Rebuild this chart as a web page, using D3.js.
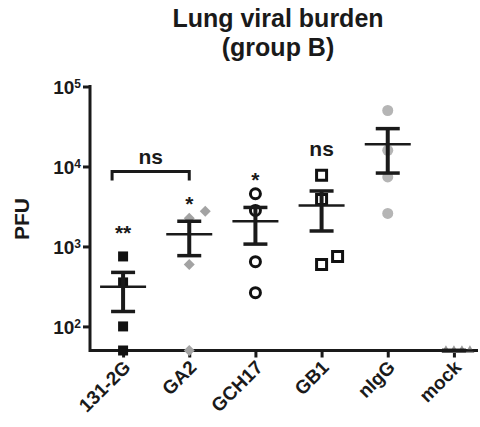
<!DOCTYPE html>
<html lang="en">
  <head>
    <meta charset="UTF-8" />
    <title>Lung viral burden</title>
    <script src="https://cdn.jsdelivr.net/npm/d3@7"></script>
    <style>
      body { margin: 0; background: #fff; }
      text { font-family: Arial, "Liberation Sans", sans-serif; fill: #1a1a1a; }
    </style>
  </head>
  <body>
    <svg width="480" height="427"></svg>
  </body>

  <script>
    // data (PFU per animal)
    var categories = ['131-2G', 'GA2', 'GCH17', 'GB1', 'nIgG', 'mock'];
    var pfu131 = [750, 355, 100, 50];
    var pfuGA2 = [2260, 2760, 596, 50];
    var pfuGCH17 = [4560, 2820, 645, 264];
    var pfuGB1 = [7780, 3870, 596, 750];
    var pfuNIgG = [50100, 15900, 7400, 2590];
    var pfuMock = [50, 50, 50, 50];
    var yTicks = [1e2, 1e3, 1e4, 1e5];
    var sigLabels = ['**', '*', '*', 'ns', '', ''];
    var sigHeights = [1220, 2750, 5480, 13700, null, null]; // where the stars sit, PFU
    var bracketPair = ['131-2G', 'GA2'];
    var bracketLabel = 'ns';
    var bracketTop = 8680, bracketFoot = 6680;

    var series = [pfu131, pfuGA2, pfuGCH17, pfuGB1, pfuNIgG, pfuMock];

    // marker styles per group (size = width in px)
    var marks = [
      { shape: 'square', fill: '#111', stroke: 'none', size: 10, step: 16 },
      { shape: 'diamond', fill: '#a3a3a3', stroke: 'none', size: 11, step: 16 },
      { shape: 'circle', fill: 'none', stroke: '#111', size: 10, step: 16 },
      { shape: 'square', fill: 'none', stroke: '#111', size: 10, step: 16 },
      { shape: 'circle', fill: '#b5b5b5', stroke: 'none', size: 11, step: 16 },
      { shape: 'triangle', fill: '#9a9a9a', stroke: 'none', size: 9, step: 8 }
    ];

    var svg = d3.select('svg');
    var plotL = 90, plotR = 478, plotT = 86.5, plotB = 350.5;

    var x = d3.scalePoint().domain(categories).range([plotL, 487]).padding(0.5);
    var y = d3.scaleLog().domain([50, 1e5]).range([plotB, plotT]);

    // title
    var title = svg.append('text').attr('text-anchor', 'middle')
      .style('font-size', '25px').style('font-weight', 'bold');
    title.append('tspan').attr('x', 278).attr('y', 27).text('Lung viral burden');
    title.append('tspan').attr('x', 278).attr('y', 56).text('(group B)');

    // y axis
    var gy = svg.append('g').attr('transform', 'translate(' + plotL + ',0)')
      .call(d3.axisLeft(y).tickValues(yTicks).tickSize(7).tickSizeOuter(0).tickFormat(''));
    gy.selectAll('.tick text').remove();
    gy.selectAll('.tick').append('text')
      .attr('x', -9).attr('dy', '0.38em').attr('text-anchor', 'end')
      .style('font-size', '19px').style('font-weight', 'bold')
      .each(function (d) {
        var t = d3.select(this);
        t.append('tspan').text('10');
        t.append('tspan').attr('dy', '-0.55em').style('font-size', '12px').text(Math.round(Math.log10(d)));
      });

    svg.append('text')
      .attr('transform', 'translate(29,219) rotate(-90)')
      .attr('text-anchor', 'middle')
      .style('font-size', '21px').style('font-weight', 'bold')
      .text('PFU');

    // x axis
    var gx = svg.append('g').attr('transform', 'translate(0,' + plotB + ')')
      .call(d3.axisBottom(x).tickSize(7).tickSizeOuter(0).tickFormat(''));
    gx.select('.domain').attr('d', 'M' + plotL + ',0H' + plotR);
    gx.selectAll('.tick').append('text')
      .attr('transform', 'translate(8,18) rotate(-45)')
      .attr('text-anchor', 'end')
      .style('font-size', '19px').style('font-weight', 'bold')
      .text(function (d) { return d; });

    svg.selectAll('.domain, .tick line').attr('stroke', '#1a1a1a').attr('stroke-width', 3);
    gy.select('.domain').attr('d', 'M0,' + (plotT - 1.5) + 'V' + (plotB + 1.5));

    // points, with a small dodge where points of one group overlap
    var pts = svg.append('g');
    series.forEach(function (vals, gi) {
      var m = marks[gi];
      var placed = [];
      var slots = [0, 1, -1, 2, -2, 3];
      vals.forEach(function (v) {
        var py = y(v);
        var k = 0;
        while (placed.some(function (p) { return p.slot === slots[k] && Math.abs(p.y - py) < m.size; })) k++;
        placed.push({ slot: slots[k], y: py });
        var px = x(categories[gi]) + slots[k] * m.step;
        var s = m.size, sym, rot = 0;
        if (m.shape === 'square') sym = d3.symbol(d3.symbolSquare, s * s);
        else if (m.shape === 'diamond') { sym = d3.symbol(d3.symbolSquare, s * s / 2); rot = 45; }
        else if (m.shape === 'circle') sym = d3.symbol(d3.symbolCircle, Math.PI * s * s / 4);
        else sym = d3.symbol(d3.symbolTriangle, s * s * Math.sqrt(3) / 4);
        pts.append('path')
          .attr('transform', 'translate(' + px + ',' + py + ') rotate(' + rot + ')')
          .attr('d', sym())
          .attr('fill', m.fill)
          .attr('stroke', m.stroke)
          .attr('stroke-width', 3);
      });
    });

    // mean and SEM
    var bars = svg.append('g').attr('stroke', '#1a1a1a');
    series.forEach(function (vals, gi) {
      var cx = x(categories[gi]);
      var mean = d3.mean(vals);
      var sem = d3.deviation(vals) / Math.sqrt(vals.length);
      var lo = Math.max(mean - sem, 50), hi = mean + sem;
      bars.append('line').attr('x1', cx).attr('x2', cx).attr('y1', y(lo)).attr('y2', y(hi)).attr('stroke-width', 4);
      [lo, hi].forEach(function (v) {
        bars.append('line').attr('x1', cx - 12).attr('x2', cx + 12).attr('y1', y(v)).attr('y2', y(v)).attr('stroke-width', 3.5);
      });
      bars.append('line').attr('x1', cx - 23).attr('x2', cx + 23).attr('y1', y(mean)).attr('y2', y(mean)).attr('stroke-width', 2.5);
    });

    // significance marks
    svg.append('g').selectAll('text')
      .data(sigLabels.map(function (s, i) { return { s: s, h: sigHeights[i], c: categories[i] }; }).filter(function (d) { return d.s; }))
      .enter().append('text')
      .attr('x', function (d) { return x(d.c); })
      .attr('y', function (d) { return y(d.h); })
      .attr('text-anchor', 'middle')
      .style('font-size', '21px').style('font-weight', 'bold')
      .text(function (d) { return d.s; });

    var bx1 = x(bracketPair[0]) - 11, bx2 = x(bracketPair[1]);
    svg.append('path')
      .attr('d', 'M' + bx1 + ',' + y(bracketFoot) + 'V' + y(bracketTop) + 'H' + bx2 + 'V' + y(bracketFoot))
      .attr('fill', 'none').attr('stroke', '#1a1a1a').attr('stroke-width', 3);
    svg.append('text')
      .attr('x', (bx1 + bx2) / 2).attr('y', y(bracketTop) - 7)
      .attr('text-anchor', 'middle')
      .style('font-size', '21px').style('font-weight', 'bold')
      .text(bracketLabel);
  </script>
</html>
